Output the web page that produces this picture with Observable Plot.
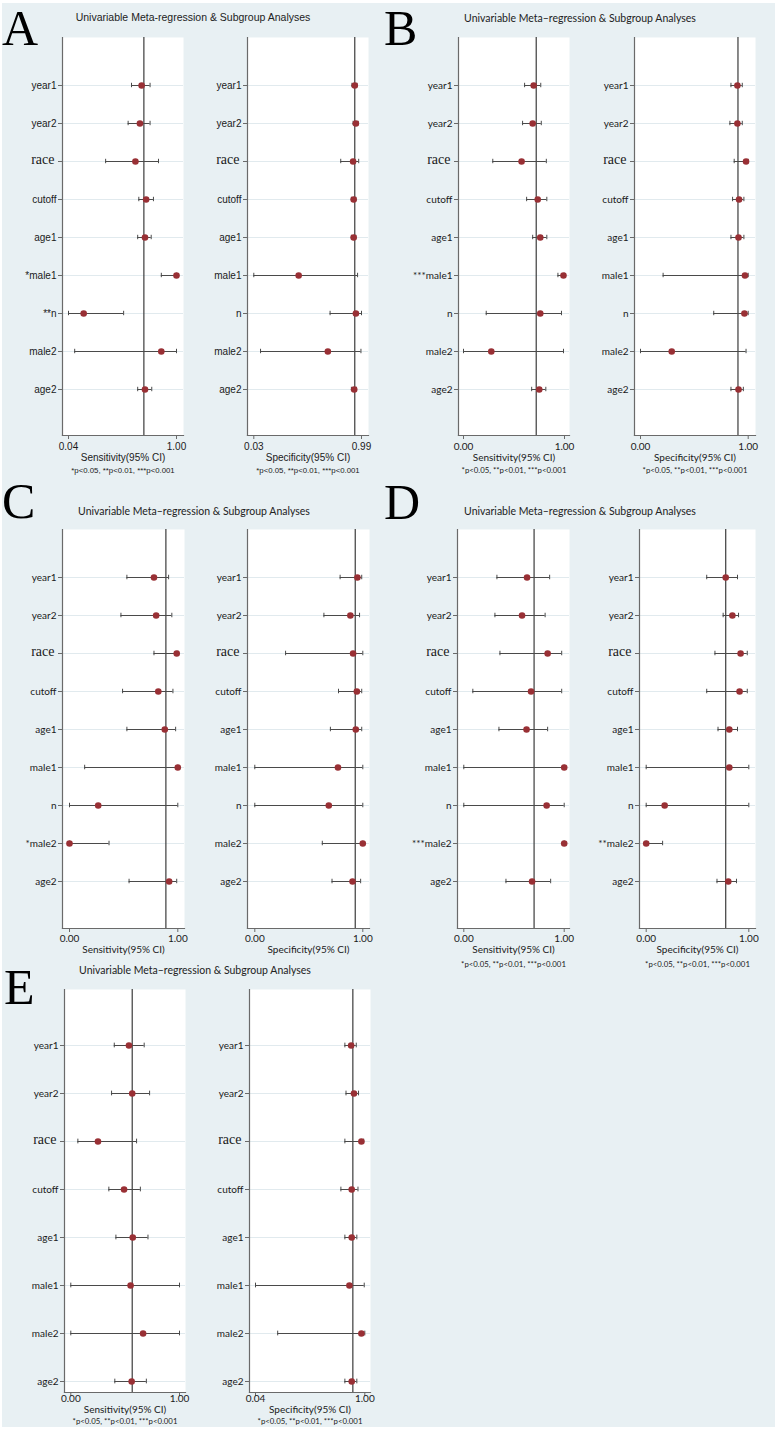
<!DOCTYPE html>
<html><head><meta charset="utf-8">
<script src="https://cdn.jsdelivr.net/npm/d3@7"></script>
<script src="https://cdn.jsdelivr.net/npm/@observablehq/plot@0.6"></script>
<style>
body{margin:0;background:#fff;}
#fig{position:relative;width:778px;height:1429px;overflow:hidden;}
#bg{position:absolute;left:2px;top:3px;width:773px;height:1424px;background:#e8f0f3;}
.title{position:absolute;transform:translate(-50%,-50%);white-space:nowrap;color:#222;}
.letter{position:absolute;font-family:'Liberation Serif','Times New Roman',serif;font-size:50px;line-height:1.15;color:#000;}
</style></head>
<body><div id="fig"><div id="bg"></div></div>
<script>
// ---------- data ----------
const rowsMain = ["year1","year2","race","cutoff","age1","male1","n","male2","age2"];
const rowsE = ["year1","year2","race","cutoff","age1","male1","male2","age2"];

const titleA = "Univariable Meta-regression & Subgroup Analyses";
const titleBE = "Univariable Meta\u2013regression & Subgroup Analyses";
const sensLabel = "Sensitivity(95% CI)";
const specLabel = "Specificity(95% CI)";
const note = "*p<0.05, **p<0.01, ***p<0.001";

// Panel A
const aSensLabels = ["year1","year2","race","cutoff","age1","*male1","**n","male2","age2"];
const aSensEst = [0.69,0.675,0.635,0.73,0.72,1.00,0.175,0.865,0.72];
const aSensLo  = [0.60,0.57,0.37,0.665,0.655,0.865,0.04,0.095,0.655];
const aSensHi  = [0.765,0.765,0.84,0.795,0.775,1.00,0.53,1.00,0.78];
const aSensRef = 0.71;
const aSensTicks = [0.04,1.00];
const aSpecLabels = ["year1","year2","race","cutoff","age1","male1","n","male2","age2"];
const aSpecEst = [0.93,0.94,0.915,0.92,0.92,0.43,0.94,0.69,0.925];
const aSpecLo  = [0.905,0.915,0.805,0.90,0.90,0.03,0.71,0.09,0.90];
const aSpecHi  = [0.95,0.96,0.965,0.94,0.94,0.955,0.99,0.985,0.945];
const aSpecRef = 0.93;
const aSpecTicks = [0.03,0.99];

// Panel B
const bSensLabels = ["year1","year2","race","cutoff","age1","***male1","n","male2","age2"];
const bSensEst = [0.695,0.685,0.575,0.735,0.76,0.99,0.76,0.275,0.75];
const bSensLo  = [0.605,0.585,0.29,0.625,0.685,0.935,0.225,0.0,0.675];
const bSensHi  = [0.765,0.77,0.82,0.825,0.825,1.0,0.97,0.99,0.815];
const bSensRef = 0.72;
const bSpecLabels = ["year1","year2","race","cutoff","age1","male1","n","male2","age2"];
const bSpecEst = [0.90,0.90,0.98,0.915,0.91,0.97,0.965,0.29,0.91];
const bSpecLo  = [0.84,0.83,0.87,0.855,0.84,0.21,0.68,0.0,0.84];
const bSpecHi  = [0.945,0.945,1.0,0.96,0.96,1.0,1.0,0.98,0.955];
const bSpecRef = 0.905;

// Panel C
const cSensLabels = ["year1","year2","race","cutoff","age1","male1","n","*male2","age2"];
const cSensEst = [0.78,0.80,0.99,0.82,0.88,1.0,0.265,0.0,0.92];
const cSensLo  = [0.53,0.475,0.78,0.49,0.53,0.14,0.0,0.0,0.55];
const cSensHi  = [0.915,0.945,1.0,0.955,0.98,1.0,1.0,0.365,0.99];
const cSensRef = 0.89;
const cSpecLabels = ["year1","year2","race","cutoff","age1","male1","n","male2","age2"];
const cSpecEst = [0.95,0.885,0.91,0.945,0.935,0.77,0.685,1.0,0.905];
const cSpecLo  = [0.79,0.64,0.285,0.775,0.70,0.0,0.0,0.625,0.715];
const cSpecHi  = [0.99,0.97,1.0,0.99,0.99,1.0,1.0,1.0,0.98];
const cSpecRef = 0.93;

// Panel D
const dSensLabels = ["year1","year2","race","cutoff","age1","male1","n","***male2","age2"];
const dSensEst = [0.63,0.58,0.835,0.67,0.625,1.0,0.825,1.0,0.68];
const dSensLo  = [0.33,0.31,0.36,0.09,0.35,0.0,0.0,1.0,0.42];
const dSensHi  = [0.855,0.81,0.975,0.975,0.835,1.0,1.0,1.0,0.865];
const dSensRef = 0.70;
const dSpecLabels = ["year1","year2","race","cutoff","age1","male1","n","**male2","age2"];
const dSpecEst = [0.775,0.84,0.92,0.91,0.81,0.81,0.18,0.0,0.80];
const dSpecLo  = [0.59,0.75,0.67,0.59,0.70,0.0,0.0,0.0,0.69];
const dSpecHi  = [0.89,0.90,0.985,0.985,0.89,1.0,1.0,0.16,0.88];
const dSpecRef = 0.775;

// Panel E
const eSensLabels = ["year1","year2","race","cutoff","age1","male1","male2","age2"];
const eSensEst = [0.535,0.565,0.25,0.49,0.57,0.55,0.665,0.56];
const eSensLo  = [0.40,0.375,0.065,0.35,0.415,0.0,0.0,0.405];
const eSensHi  = [0.675,0.725,0.605,0.64,0.71,1.0,1.0,0.695];
const eSensRef = 0.565;
const eSpecLabels = ["year1","year2","race","cutoff","age1","male1","male2","age2"];
const eSpecEst = [0.88,0.905,0.97,0.885,0.885,0.865,0.97,0.885];
const eSpecLo  = [0.825,0.835,0.825,0.79,0.825,0.04,0.235,0.825];
const eSpecHi  = [0.925,0.945,0.99,0.94,0.93,0.995,1.0,0.93];
const eSpecRef = 0.895;
const eSpecTicks = [0.04,1.00];
const unitTicks = [0,1];

// ---------- layout ----------
const arial = "'Liberation Sans', Arial, Helvetica, sans-serif";
const lato = "Lato, 'Noto Sans', sans-serif";

const panels = [
  {letter:"A", lx:2, ly:0, title:titleA, tx:193, ty:17, font:arial, fs:10, tfs:10.5,
   firstRow:82.3, lastRow:391, tickPad:3, labelDy:22, noteDy:35, showNote:true,
   subs:[
    {rows:rowsMain, labels:aSensLabels, est:aSensEst, lo:aSensLo, hi:aSensHi, ref:aSensRef, ticks:aSensTicks, xlabel:sensLabel,
     frame:{x:62,y:37,w:121,h:398}, inset:[6,7]},
    {rows:rowsMain, labels:aSpecLabels, est:aSpecEst, lo:aSpecLo, hi:aSpecHi, ref:aSpecRef, ticks:aSpecTicks, xlabel:specLabel,
     frame:{x:247,y:37,w:121,h:398}, inset:[6.3,7]}
   ]},
  {letter:"B", lx:384, ly:0, title:titleBE, tx:580, ty:18, font:lato, fs:10, tfs:10.5,
   firstRow:82.3, lastRow:391, tickPad:3, labelDy:22, noteDy:35, showNote:true,
   subs:[
    {rows:rowsMain, labels:bSensLabels, est:bSensEst, lo:bSensLo, hi:bSensHi, ref:bSensRef, ticks:unitTicks, xlabel:sensLabel,
     frame:{x:458,y:37,w:111,h:398}, inset:[5,5]},
    {rows:rowsMain, labels:bSpecLabels, est:bSpecEst, lo:bSpecLo, hi:bSpecHi, ref:bSpecRef, ticks:unitTicks, xlabel:specLabel,
     frame:{x:634,y:37,w:121,h:398}, inset:[6,7.3]}
   ]},
  {letter:"C", lx:2, ly:473, title:titleBE, tx:194, ty:511, font:lato, fs:10, tfs:10.5,
   firstRow:575, lastRow:883, tickPad:2.5, labelDy:21, noteDy:36, showNote:false,
   subs:[
    {rows:rowsMain, labels:cSensLabels, est:cSensEst, lo:cSensLo, hi:cSensHi, ref:cSensRef, ticks:unitTicks, xlabel:sensLabel,
     frame:{x:62,y:529,w:122,h:399}, inset:[7,6.7]},
    {rows:rowsMain, labels:cSpecLabels, est:cSpecEst, lo:cSpecLo, hi:cSpecHi, ref:cSpecRef, ticks:unitTicks, xlabel:specLabel,
     frame:{x:247,y:529,w:122,h:399}, inset:[7.3,6.7]}
   ]},
  {letter:"D", lx:384, ly:474, title:titleBE, tx:580, ty:511, font:lato, fs:10, tfs:10.5,
   firstRow:575, lastRow:883, tickPad:2.5, labelDy:21, noteDy:36, showNote:true,
   subs:[
    {rows:rowsMain, labels:dSensLabels, est:dSensEst, lo:dSensLo, hi:dSensHi, ref:dSensRef, ticks:unitTicks, xlabel:sensLabel,
     frame:{x:457,y:529,w:112,h:399}, inset:[6.3,5.3]},
    {rows:rowsMain, labels:dSpecLabels, est:dSpecEst, lo:dSpecLo, hi:dSpecHi, ref:dSpecRef, ticks:unitTicks, xlabel:specLabel,
     frame:{x:639,y:529,w:116,h:399}, inset:[6.7,6.7]}
   ]},
  {letter:"E", lx:4, ly:959, title:titleBE, tx:195, ty:970, font:lato, fs:10, tfs:10.5,
   firstRow:1043.7, lastRow:1381.7, tickPad:-2, labelDy:17, noteDy:29, showNote:true,
   subs:[
    {rows:rowsE, labels:eSensLabels, est:eSensEst, lo:eSensLo, hi:eSensHi, ref:eSensRef, ticks:unitTicks, xlabel:sensLabel,
     frame:{x:64,y:989,w:121,h:403}, inset:[6.3,6]},
    {rows:rowsE, labels:eSpecLabels, est:eSpecEst, lo:eSpecLo, hi:eSpecHi, ref:eSpecRef, ticks:eSpecTicks, xlabel:specLabel,
     frame:{x:249,y:989,w:121,h:403}, inset:[6,5.7]}
   ]}
];

const fig = document.getElementById("fig");
const mL = 62, mR = 8, mT = 4, mB = 46;

function subplot(s, p) {
  const data = s.rows.map((r, i) => ({row: r, label: s.labels[i], est: s.est[i], lo: s.lo[i], hi: s.hi[i]}));
  const step = (p.lastRow - p.firstRow) / (s.rows.length - 1);
  const insetTop = p.firstRow - step / 2 - s.frame.y;
  const insetBottom = s.frame.y + s.frame.h - (p.lastRow + step / 2);
  const cap = (step - 5) / 2;
  const W = mL + s.frame.w + mR, H = mT + s.frame.h + mB;
  const domain = [s.ticks[0], s.ticks[1]];
  const marks = [
    Plot.frame({fill: "white", stroke: "none"}),
    Plot.gridY({stroke: "#e1eaee", strokeOpacity: 1}),
    Plot.ruleX([s.ref], {stroke: "#3c3c3c", strokeWidth: 1.2}),
    Plot.ruleY(data, {y: "row", x1: "lo", x2: "hi", stroke: "#4a4a4a", strokeWidth: 1}),
    Plot.tickX(data, {x: "lo", y: "row", insetTop: cap, insetBottom: cap, stroke: "#4a4a4a", strokeWidth: 1}),
    Plot.tickX(data, {x: "hi", y: "row", insetTop: cap, insetBottom: cap, stroke: "#4a4a4a", strokeWidth: 1}),
    Plot.dot(data, {x: "est", y: "row", r: 3.3, fill: "#993035", stroke: "none"}),
    Plot.axisY({tickSize: 4, tickFormat: () => "", stroke: "#6a6a6a", label: null}),
    Plot.text(data.filter(d => d.row !== "race"), {y: "row", text: "label", frameAnchor: "left", textAnchor: "end", dx: -6, fontSize: p.fs, fill: "#1a1a1a"}),
    Plot.text(data.filter(d => d.row === "race"), {y: "row", text: "label", frameAnchor: "left", textAnchor: "end", dx: -8, dy: -2, fontSize: 14, fontFamily: "'Liberation Serif', 'Times New Roman', serif", fill: "#1a1a1a"}),
    Plot.frame({anchor: "left", stroke: "#6a6a6a", strokeWidth: 1.2}),
    Plot.frame({anchor: "bottom", stroke: "#6a6a6a", strokeWidth: 1.2}),
    Plot.axisX({ticks: s.ticks, tickFormat: d3.format(".2f"), tickSize: 4, tickPadding: p.tickPad, stroke: "#6a6a6a", label: null, fontSize: p.fs, fill: "#1a1a1a"}),
    Plot.text([s.xlabel], {text: d => d, frameAnchor: "bottom", lineAnchor: "middle", dy: p.labelDy, fontSize: p.fs, fill: "#1a1a1a"})
  ];
  if (p.showNote) marks.push(Plot.text([note], {text: d => d, frameAnchor: "bottom", lineAnchor: "middle", dy: p.noteDy, fontSize: 7.8, fill: "#1a1a1a"}));
  const chart = Plot.plot({
    width: W, height: H,
    marginLeft: mL, marginRight: mR, marginTop: mT, marginBottom: mB,
    style: {background: "transparent", fontFamily: p.font, fontSize: p.fs + "px", color: "#1a1a1a", overflow: "visible"},
    x: {domain, insetLeft: s.inset[0], insetRight: s.inset[1], axis: null},
    y: {type: "band", domain: s.rows, padding: 0, insetTop, insetBottom, axis: null},
    marks
  });
  chart.style.position = "absolute";
  chart.style.left = (s.frame.x - mL) + "px";
  chart.style.top = (s.frame.y - mT) + "px";
  chart.style.overflow = "visible";
  return chart;
}

for (const p of panels) {
  const L = document.createElement("div");
  L.className = "letter";
  L.textContent = p.letter;
  L.style.left = p.lx + "px";
  L.style.top = p.ly + "px";
  fig.appendChild(L);
  const T = document.createElement("div");
  T.className = "title";
  T.textContent = p.title;
  T.style.left = p.tx + "px";
  T.style.top = p.ty + "px";
  T.style.fontFamily = p.font;
  T.style.fontSize = p.tfs + "px";
  fig.appendChild(T);
  for (const s of p.subs) fig.appendChild(subplot(s, p));
}
</script>
</body></html>
